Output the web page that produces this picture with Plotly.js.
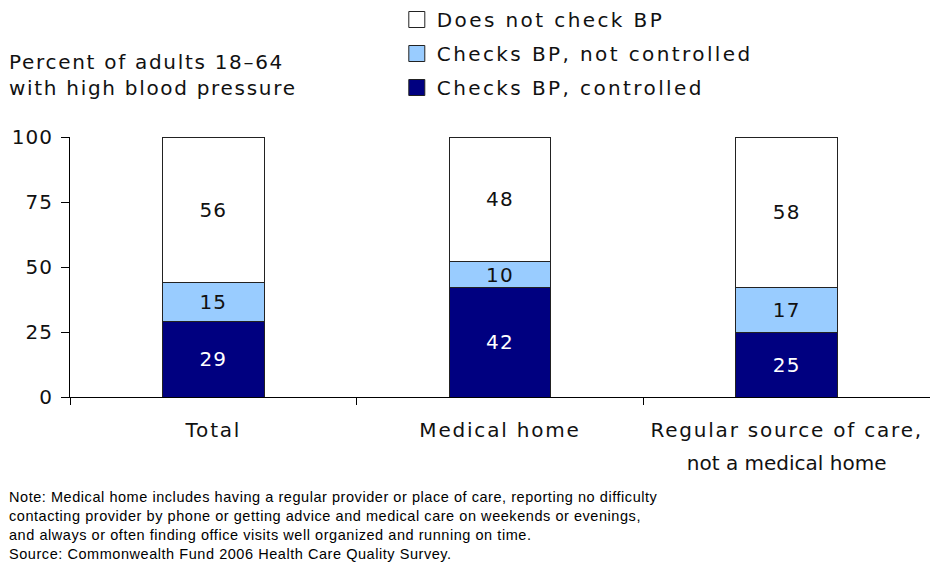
<!DOCTYPE html>
<html>
<head>
<meta charset="utf-8">
<script src="https://cdn.plot.ly/plotly-3.0.1.min.js"></script>
<style>
html,body{margin:0;padding:0;background:#fff;}
#chart{width:930px;height:576px;}
.legendtext{letter-spacing:2.4px;}
.xtick text{letter-spacing:1.8px;}
.ytick text{letter-spacing:1px;}
.bartext{letter-spacing:1.2px;}
.annotation[data-index="0"] text{letter-spacing:1.7px;}
.annotation[data-index="1"] text{letter-spacing:0.55px;}
</style>
</head>
<body>
<div id="chart"></div>
<script>
var categories = ["Total", "Medical home", "Regular source of care, not a medical home"];
var tickLine1 = ["Total", "Medical home", "Regular source of care,"];
var tickLine2 = ["", "", "not a medical home"];
var controlled = [29, 42, 25];
var notControlled = [15, 10, 17];
var doesNotCheck = [56, 48, 58];
var seriesNames = ["Checks BP, controlled", "Checks BP, not controlled", "Does not check BP"];
var yTicks = [0, 25, 50, 75, 100];

var FONT = "DejaVu Sans, Verdana, sans-serif";
function mk(vals, name, color, txtColor, rank) {
  return {
    type: "bar", x: categories, y: vals, name: name,
    marker: {color: color, line: {color: "#222", width: 1}},
    width: 0.355,
    text: vals.map(String), textposition: "inside", insidetextanchor: "middle",
    constraintext: "none",
    textfont: {family: FONT, size: 20, color: txtColor},
    hoverinfo: "skip", legendgroup: name, legendrank: rank
  };
}
var data = [
  mk(controlled, seriesNames[0], "#000080", "#ffffff", 3),
  mk(notControlled, seriesNames[1], "#99CCFF", "#111111", 2),
  mk(doesNotCheck, seriesNames[2], "#ffffff", "#111111", 1),
  {type: "scatter", mode: "markers", x: categories, y: [0, 0, 0], xaxis: "x2",
   marker: {opacity: 0}, showlegend: false, hoverinfo: "skip"}
];
var layout = {
  width: 930, height: 576,
  margin: {l: 70, r: 0, t: 137, b: 179},
  barmode: "stack",
  paper_bgcolor: "#fff", plot_bgcolor: "#fff",
  font: {family: FONT, size: 20, color: "#111"},
  showlegend: true,
  legend: {x: 0.38, xanchor: "left", y: 1.0, yref: "container", yanchor: "top",
           traceorder: "grouped", tracegroupgap: 5,
           font: {family: FONT, size: 20, color: "#111"}, bgcolor: "rgba(0,0,0,0)"},
  xaxis: {
    type: "category",
    tickvals: categories, ticktext: tickLine1,
    showline: true, linecolor: "#000", linewidth: 1,
    ticks: "outside", tickson: "boundaries", ticklen: 7, tickcolor: "#000",
    ticklabelstandoff: 15,
    showgrid: false, zeroline: false,
    tickfont: {family: FONT, size: 20, color: "#111"}
  },
  xaxis2: {
    type: "category", overlaying: "x", matches: "x", side: "bottom", anchor: "y",
    tickvals: categories, ticktext: tickLine2,
    showline: false, ticks: "", showgrid: false, zeroline: false,
    ticklabelstandoff: 52,
    tickfont: {family: FONT, size: 20, color: "#111"}
  },
  yaxis: {
    range: [0, 100], tickvals: yTicks, ticktext: yTicks.map(String),
    showline: true, linecolor: "#000", linewidth: 1,
    ticks: "outside", ticklen: 8, tickcolor: "#000",
    ticklabelstandoff: 4,
    showgrid: false, zeroline: false,
    tickfont: {family: FONT, size: 20, color: "#111"}
  },
  annotations: [
    {text: "Percent of adults 18–64<br>with high blood pressure", xref: "paper", yref: "paper",
     x: -0.073, y: 1.24, xanchor: "left", yanchor: "middle", align: "left", showarrow: false,
     font: {family: FONT, size: 20, color: "#111"}},
    {text: "Note: Medical home includes having a regular provider or place of care, reporting no difficulty<br>contacting provider by phone or getting advice and medical care on weekends or evenings,<br>and always or often finding office visits well organized and running on time.<br>Source: Commonwealth Fund 2006 Health Care Quality Survey.",
     xref: "paper", yref: "paper", x: -0.073, y: -0.345, xanchor: "left", yanchor: "top", align: "left",
     showarrow: false, font: {family: "Liberation Sans, Arial, sans-serif", size: 14.5, color: "#000"}}
  ]
};
Plotly.newPlot("chart", data, layout, {displayModeBar: false, staticPlot: true}).then(function () {
  document.querySelectorAll("#chart .legendpoints path").forEach(function (p) {
    p.setAttribute("d", "M8,8H-8V-8H8Z");
  });
});
</script>
</body>
</html>
